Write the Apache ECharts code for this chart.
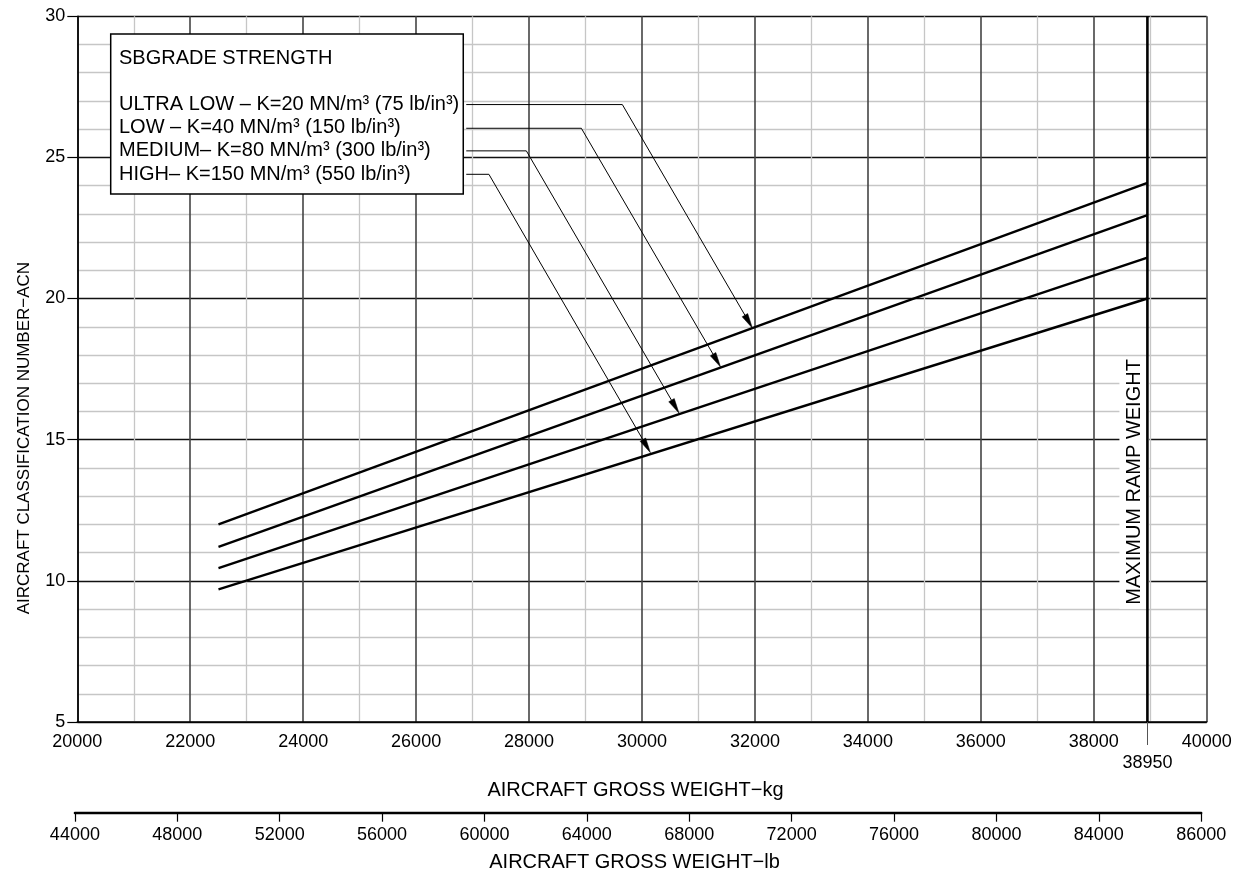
<!DOCTYPE html>
<html><head><meta charset="utf-8">
<script src="https://cdn.jsdelivr.net/npm/echarts@6/dist/echarts.min.js"></script>
<style>html,body{margin:0;padding:0;background:#fff}#c{width:1242px;height:877px}</style>
</head><body><div id="c"></div>
<script>
// ---- data ----
const subgrades = [
  'ULTRA LOW – K=20 MN/m³ (75 lb/in³)',
  'LOW – K=40 MN/m³ (150 lb/in³)',
  'MEDIUM– K=80 MN/m³ (300 lb/in³)',
  'HIGH– K=150 MN/m³ (550 lb/in³)'
];
const weightKg = [22500, 38950];
const acnUltraLow = [12.0, 24.1];
const acnLow = [11.2, 22.95];
const acnMedium = [10.45, 21.45];
const acnHigh = [9.7, 20.0];
const maxRampWeight = 38950;
const acnRange = [5, 30];
const lbTickLabels = ['44000','48000','52000','56000','60000','64000','68000','72000','76000','80000','84000','86000'];
// leader annotations: [startKg, rowAcn, bendKg, tipKg, tipAcn]
const leaders = [
  [26888, 26.87, 29652, 31956, 18.95],
  [26888, 26.03, 28926, 31392, 17.57],
  [26888, 25.23, 27952, 30656, 15.94],
  [26888, 24.40, 27289, 30149, 14.54]
];

const FONT = "'Liberation Sans', Arial, Helvetica, sans-serif";
const acnSeries = [acnUltraLow, acnLow, acnMedium, acnHigh];
const plain = v => String(v);

const chart = echarts.init(document.getElementById('c'), null, {renderer: 'canvas'});

const lineSeries = acnSeries.map((vals, i) => ({
  name: subgrades[i],
  type: 'line',
  xAxisIndex: 0, yAxisIndex: 0,
  data: weightKg.map((w, j) => [w, vals[j]]),
  showSymbol: false, symbol: 'none',
  lineStyle: {color: '#000', width: 2.4},
  itemStyle: {color: '#000'},
  silent: true, z: 5
}));

const option = {
  animation: false,
  backgroundColor: '#fff',
  textStyle: {fontFamily: FONT, color: '#000'},
  title: {
    text: 'SBGRADE STRENGTH', left: 119, top: 48, padding: 0, z: 10,
    textStyle: {fontFamily: FONT, fontSize: 20, fontWeight: 'normal', color: '#000'}
  },
  legend: {
    data: subgrades, orient: 'vertical', left: 110.7, top: 34,
    padding: [58.8, 4, 8.5, 3.3], itemWidth: 0, itemHeight: 0, itemGap: 0,
    icon: 'none', selectedMode: false,
    backgroundColor: '#fff', borderColor: '#000', borderWidth: 1.5,
    textStyle: {fontFamily: FONT, fontSize: 20, lineHeight: 23.2, color: '#000'}
  },
  grid: [
    {left: 77.3, right: 35.3, top: 16.2, bottom: 155, containLabel: false},
    {left: 74.9, right: 40.8, top: 811.7, height: 1, containLabel: false}
  ],
  xAxis: [
    {
      type: 'value', gridIndex: 0, position: 'bottom', min: 20000, max: 40000, interval: 2000,
      axisLine: {show: true, onZero: false, lineStyle: {color: '#000', width: 1.6}},
      axisTick: {show: false},
      minorTick: {show: false, splitNumber: 2},
      axisLabel: {fontFamily: FONT, fontSize: 18, color: '#000', margin: 11, formatter: plain},
      splitLine: {show: true, lineStyle: {color: '#444', width: 1.6}},
      minorSplitLine: {show: true, lineStyle: {color: '#c6c6c6', width: 1.3}},
      name: 'AIRCRAFT GROSS WEIGHT−kg', nameLocation: 'middle', nameGap: 58,
      nameTextStyle: {fontFamily: FONT, fontSize: 20, color: '#000', padding: [0, 13, 0, 0]}
    },
    {
      type: 'value', gridIndex: 0, position: 'bottom', min: 20000, max: 40000,
      axisLine: {show: false},
      axisTick: {show: true, customValues: [maxRampWeight], length: 23, lineStyle: {color: '#555', width: 1}},
      axisLabel: {show: true, customValues: [maxRampWeight], fontFamily: FONT, fontSize: 18, color: '#000', margin: 32, formatter: plain},
      splitLine: {show: false}
    },
    {
      type: 'value', gridIndex: 1, position: 'bottom', min: 44000, max: 88000, interval: 4000,
      axisLine: {show: true, onZero: false, lineStyle: {color: '#000', width: 2.4}},
      axisTick: {show: true, length: 9, lineStyle: {color: '#000', width: 1.2}},
      axisLabel: {fontFamily: FONT, fontSize: 18, color: '#000', margin: 13,
        formatter: v => lbTickLabels[Math.round((v - 44000) / 4000)] || ''},
      splitLine: {show: false},
      name: 'AIRCRAFT GROSS WEIGHT−lb', nameLocation: 'middle', nameGap: 40,
      nameTextStyle: {fontFamily: FONT, fontSize: 20, color: '#000', padding: [0, 7, 0, 0]}
    }
  ],
  yAxis: [
    {
      type: 'value', gridIndex: 0, min: acnRange[0], max: acnRange[1], interval: 5,
      axisLine: {show: true, onZero: false, lineStyle: {color: '#000', width: 1.6}},
      axisTick: {show: true, length: 10, lineStyle: {color: '#000', width: 1.2}},
      minorTick: {show: false, splitNumber: 5},
      axisLabel: {fontFamily: FONT, fontSize: 18, color: '#000', margin: 12, formatter: plain},
      splitLine: {show: true, lineStyle: {color: '#111', width: 1.3}},
      minorSplitLine: {show: true, lineStyle: {color: '#c6c6c6', width: 1.3}},
      name: 'AIRCRAFT CLASSIFICATION NUMBER−ACN', nameLocation: 'middle', nameGap: 44,
      nameTextStyle: {fontFamily: FONT, fontSize: 17, color: '#000', padding: [0, 138, 0, 0]}
    },
    {type: 'value', gridIndex: 1, min: 0, max: 1, show: false}
  ],
  series: [
    ...lineSeries,
    {
      name: 'MAXIMUM RAMP WEIGHT',
      type: 'line', xAxisIndex: 0, yAxisIndex: 0,
      data: acnRange.map(a => [maxRampWeight, a]),
      showSymbol: false, symbol: 'none', silent: true, z: 6,
      lineStyle: {color: '#000', width: 2.6},
      markPoint: {
        symbol: 'rect', symbolSize: 0, silent: true, animation: false, z: 4,
        data: [{coord: [38720, 13.47], value: 'MAXIMUM RAMP WEIGHT'}],
        label: {
          show: true, position: 'inside', rotate: 90, formatter: 'MAXIMUM RAMP WEIGHT',
          fontFamily: FONT, fontSize: 20, color: '#000', backgroundColor: '#fff', padding: [5, 2, 5, 4]
        }
      }
    },
    {
      name: 'leaders', type: 'custom', xAxisIndex: 0, yAxisIndex: 0, silent: true, z: 7,
      clip: false,
      encode: {x: [0, 2, 3], y: [1, 4]},
      data: leaders,
      renderItem: function (params, api) {
        const p0 = api.coord([api.value(0), api.value(1)]);
        const p1 = api.coord([api.value(2), api.value(1)]);
        const p2 = api.coord([api.value(3), api.value(4)]);
        const dx = p2[0] - p1[0], dy = p2[1] - p1[1];
        const L = Math.hypot(dx, dy), ux = dx / L, uy = dy / L;
        const len = 15, hw = 3.2;
        const base = [p2[0] - ux * len, p2[1] - uy * len];
        const tri = [p2, [base[0] - uy * hw, base[1] + ux * hw], [base[0] + uy * hw, base[1] - ux * hw]];
        return {type: 'group', children: [
          {type: 'polyline', shape: {points: [p0, p1, base]}, style: {stroke: '#000', lineWidth: 1, fill: null}},
          {type: 'polygon', shape: {points: tri}, style: {fill: '#000', stroke: '#000', lineWidth: 0.5}}
        ]};
      }
    }
  ]
};
chart.setOption(option);
</script>
</body></html>
